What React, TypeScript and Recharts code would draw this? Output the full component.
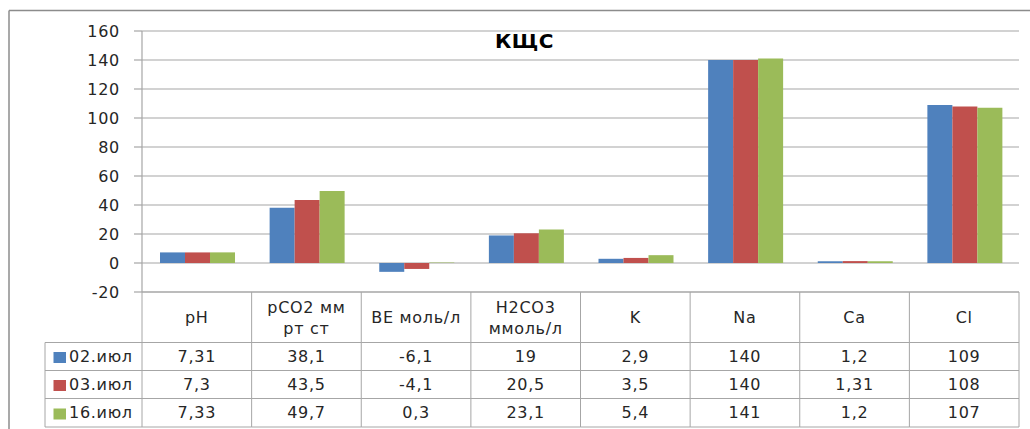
import React from 'react';
import { BarChart, Bar, XAxis, YAxis, CartesianGrid } from 'recharts';

// acid-base panel, three sampling dates
const params = ['pH', 'pCO2 мм рт ст', 'BE моль/л', 'H2CO3 ммоль/л', 'K', 'Na', 'Ca', 'Cl'];
const paramLines = [['pH'], ['pCO2 мм', 'рт ст'], ['BE моль/л'], ['H2CO3', 'ммоль/л'], ['K'], ['Na'], ['Ca'], ['Cl']];
const jul02 = [7.31, 38.1, -6.1, 19, 2.9, 140, 1.2, 109];
const jul03 = [7.3, 43.5, -4.1, 20.5, 3.5, 140, 1.31, 108];
const jul16 = [7.33, 49.7, 0.3, 23.1, 5.4, 141, 1.2, 107];
const seriesNames = ['02.июл', '03.июл', '16.июл'];
const yTicks = [-20, 0, 20, 40, 60, 80, 100, 120, 140, 160];

const series = [
  { key: 'd02', name: seriesNames[0], values: jul02, color: '#4F81BD' },
  { key: 'd03', name: seriesNames[1], values: jul03, color: '#C0504D' },
  { key: 'd16', name: seriesNames[2], values: jul16, color: '#9BBB59' },
];

const data = params.map((p, i) => {
  const row: Record<string, any> = { param: p };
  series.forEach(s => { row[s.key] = s.values[i]; });
  return row;
});

const W = 1022;
const H = 421;
const MARGIN = { top: 23, right: 11, bottom: 2, left: 0 };
const Y_AXIS_W = 134;
const X_AXIS_H = 135;
const BAND = (W - MARGIN.left - Y_AXIS_W - MARGIN.right) / params.length;
const LEGEND_COL_W = 97;
const FONT = 'DejaVu Sans';
const SPACING = 0.7;
const LINE = '#A6A6A6';
const TEXT = '#262626';

const HEADER_BOTTOM = 50.5;
const ROW_LINES = [50.5, 78.5, 106.5, 135];
const ROW_BASE = [69.5, 97.5, 126];

const fmt = (v: number) => String(v).replace('.', ',');

// x-axis tick drawn as one column of the data table under the plot
const TableTick = (props: any) => {
  const { x, y, payload } = props;
  const i = params.indexOf(payload.value);
  const left = x - BAND / 2;
  const right = x + BAND / 2;
  const lines = paramLines[i];
  const lcLeft = left - LEGEND_COL_W;

  return (
    <g fontFamily={FONT} fontSize={16} fill={TEXT} letterSpacing={SPACING}>
      <line x1={left} x2={left} y1={y} y2={y + X_AXIS_H} stroke={LINE} />
      {i === params.length - 1 && (
        <line x1={right} x2={right} y1={y} y2={y + X_AXIS_H} stroke={LINE} />
      )}
      {ROW_LINES.map(r => (
        <line key={r} x1={left} x2={right} y1={y + r} y2={y + r} stroke={LINE} />
      ))}
      {lines.length === 1 ? (
        <text x={x} y={y + 30.5} textAnchor="middle">{lines[0]}</text>
      ) : (
        <>
          <text x={x} y={y + 20.5} textAnchor="middle">{lines[0]}</text>
          <text x={x} y={y + 41.5} textAnchor="middle">{lines[1]}</text>
        </>
      )}
      {series.map((s, r) => (
        <text key={s.key} x={x} y={y + ROW_BASE[r]} textAnchor="middle">
          {fmt(s.values[i])}
        </text>
      ))}
      {i === 0 && (
        <g>
          <line x1={lcLeft} x2={lcLeft} y1={y + HEADER_BOTTOM} y2={y + X_AXIS_H} stroke={LINE} />
          {ROW_LINES.map(r => (
            <line key={r} x1={lcLeft} x2={left} y1={y + r} y2={y + r} stroke={LINE} />
          ))}
          {series.map((s, r) => (
            <g key={s.key}>
              <rect x={lcLeft + 8.5} y={y + ROW_BASE[r] - 9.5} width={12.5} height={11} fill={s.color} />
              <text x={lcLeft + 24} y={y + ROW_BASE[r]} textAnchor="start">{s.name}</text>
            </g>
          ))}
        </g>
      )}
    </g>
  );
};

export default function App() {
  return (
    <div style={{ position: 'absolute', left: 8, top: 8, width: W, height: H, overflow: 'hidden', background: '#fff' }}>
      <BarChart
        width={W}
        height={H}
        data={data}
        margin={MARGIN}
        barCategoryGap={18}
        barGap={0}
        style={{ fontFamily: FONT }}
      >
        <CartesianGrid vertical={false} stroke={LINE} strokeWidth={1.2} />
        <YAxis
          domain={[-20, 160]}
          ticks={yTicks}
          interval={0}
          width={Y_AXIS_W}
          tickSize={8}
          tickMargin={14}
          axisLine={{ stroke: LINE, strokeWidth: 1.2 }}
          tickLine={{ stroke: LINE, strokeWidth: 1.2 }}
          tick={{ fontSize: 16, fill: TEXT, fontFamily: FONT, letterSpacing: SPACING }}
        />
        <XAxis
          dataKey="param"
          height={X_AXIS_H}
          interval={0}
          tickSize={0}
          tickMargin={0}
          axisLine={{ stroke: LINE }}
          tickLine={false}
          tick={<TableTick />}
        />
        {series.map(s => (
          <Bar key={s.key} dataKey={s.key} name={s.name} fill={s.color} isAnimationActive={false} />
        ))}
      </BarChart>
      <svg
        width={W}
        height={H}
        style={{ position: 'absolute', left: 0, top: 0, pointerEvents: 'none' }}
      >
        <line x1={1} x2={1} y1={2.5} y2={H} stroke="#8c8c8c" strokeWidth={1.5} />
        <line x1={1} x2={W} y1={2.5} y2={2.5} stroke="#8c8c8c" strokeWidth={1.5} />
        <text
          x={516.5}
          y={40.3}
          textAnchor="middle"
          fontFamily={FONT}
          fontWeight="bold"
          fontSize={20}
          letterSpacing={0.5}
          fill="#000"
        >
          КЩС
        </text>
      </svg>
    </div>
  );
}
